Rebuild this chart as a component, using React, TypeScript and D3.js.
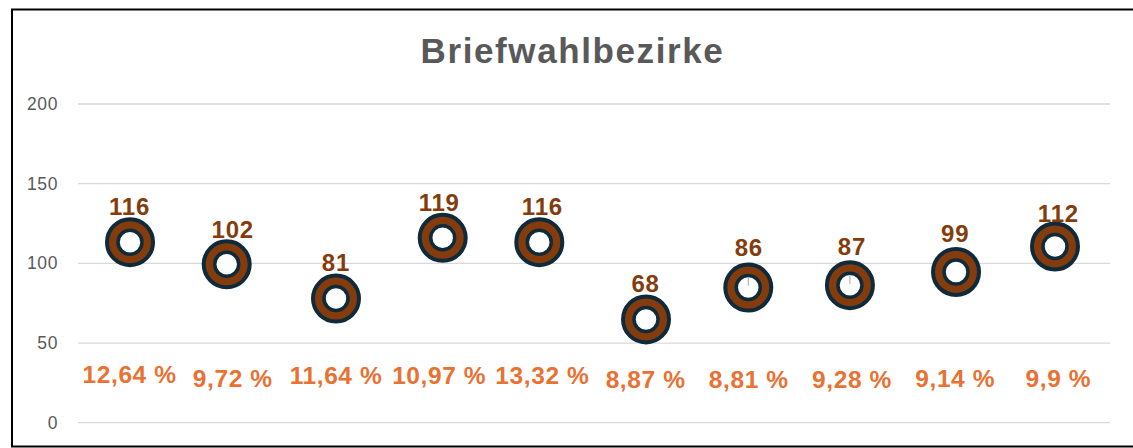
import React from "react";
import * as d3 from "d3";

// ---- data ----
const title = "Briefwahlbezirke";
const yTicks = [0, 50, 100, 150, 200];
const labelValues = [116, 102, 81, 119, 116, 68, 86, 87, 99, 112];
const percentLabels = ["12,64 %", "9,72 %", "11,64 %", "10,97 %", "13,32 %", "8,87 %", "8,81 %", "9,28 %", "9,14 %", "9,9 %"];
// ring markers (slightly jittered positions)
const markerX = [0.504, 1.441, 2.5, 3.534, 4.47, 5.504, 6.495, 7.48, 8.508, 9.467];
const markerY = [113.3, 99.4, 77.9, 116, 113.3, 64.8, 84.8, 86.3, 94.6, 110.6];
// hidden helper series carrying the percentage labels
const percentY = [30.2, 27.8, 29.5, 29.8, 29.5, 26.9, 26.9, 27.4, 27.6, 27.9];
// labels that were moved up (with leader line)
const labelNudge = [0, 0, 0, 0, 0, 0, 7, 6.5, 0, 0];

const W = 1133;
const H = 448;
const plot = { left: 78, right: 1110, top: 104, bottom: 422.7 };

export default function App() {
  const n = labelValues.length;
  const x = d3.scaleLinear().domain([0, n]).range([plot.left, plot.right]);
  const y = d3.scaleLinear().domain([0, 200]).range([plot.bottom, plot.top]);

  const brown = "#843C0C";
  const navy = "#0F2A3A";
  const orange = "#E97132";
  const font = "'Liberation Sans', Arial, sans-serif";

  return (
    <svg width={W} height={H} style={{ position: "absolute", left: 0, top: 0 }} fontFamily={font}>
      <rect x={0} y={0} width={W} height={H} fill="#fff" />
      <rect x={12} y={9.5} width={1140} height={437} fill="#fff" stroke="#000" strokeWidth={2} />
      <text x={572.5} y={63} textAnchor="middle" fontSize={35} fontWeight="bold" fill="#595959" letterSpacing={1.6}>
        {title}
      </text>
      {yTicks.map((t) => (
        <g key={t}>
          <line x1={plot.left} x2={plot.right} y1={y(t)} y2={y(t)} stroke="#D9D9D9" strokeWidth={1.3} />
          <text x={58} y={y(t) + 6} textAnchor="end" fontSize={17.5} fill="#595959" letterSpacing={0.6}>
            {t}
          </text>
        </g>
      ))}
      {markerX.map((mx, i) => {
        const cx = x(mx);
        const cy = y(markerY[i]);
        return (
          <g key={i}>
            <circle cx={cx} cy={cy} r={23} fill={brown} stroke={navy} strokeWidth={4} />
            <circle cx={cx} cy={cy} r={12} fill="#fff" stroke={navy} strokeWidth={3.5} />
          </g>
        );
      })}
      {labelValues.map((v, i) => {
        const lx = x(i + 0.5);
        const base = y(v) - 22.5 - labelNudge[i];
        return (
          <g key={i}>
            {labelNudge[i] > 0 && (
              <line x1={x(markerX[i])} x2={x(markerX[i])} y1={y(markerY[i]) - 10} y2={y(v)} stroke="#A6A6A6" strokeWidth={1} />
            )}
            <text x={lx} y={base} textAnchor="middle" fontSize={24} fontWeight="bold" fill={brown} letterSpacing={0.8}>
              {v}
            </text>
          </g>
        );
      })}
      {percentLabels.map((p, i) => (
        <text key={i} x={x(i + 0.5)} y={y(percentY[i]) + 8.5} textAnchor="middle" fontSize={24.5} fontWeight="bold" fill={orange} letterSpacing={0.6}>
          {p}
        </text>
      ))}
    </svg>
  );
}
